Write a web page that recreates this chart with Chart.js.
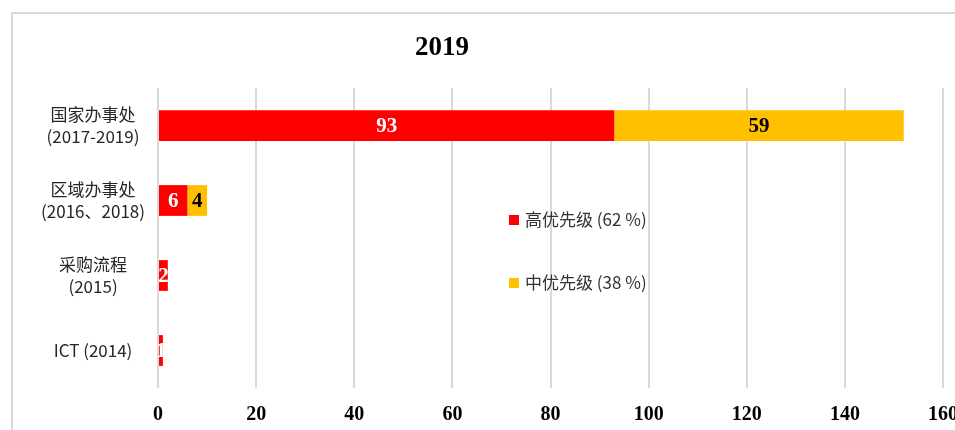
<!DOCTYPE html>
<html>
<head>
<meta charset="utf-8">
<script src="https://cdn.jsdelivr.net/npm/chart.js@4/dist/chart.umd.min.js"></script>
<style>
  html,body{margin:0;padding:0;background:#fff;overflow:hidden;width:955px;height:430px;}
  canvas{display:block;}
</style>
</head>
<body>
<canvas id="c" width="980" height="430"></canvas>
<script>
// data
const chartTitle  = "2019";
const categories  = [["国家办事处","(2017-2019)"],["区域办事处","(2016、2018)"],["采购流程","(2015)"],"ICT (2014)"];
const seriesNames = ["高优先级 (62 %)","中优先级 (38 %)"];
const highValues  = [93,6,2,1];
const midValues   = [59,4,0,0];
const xMin = 0, xMax = 160, xStep = 20;

const RED = "#FF0000", ORANGE = "#FFC000";
const SERIF = '"Liberation Serif","Times New Roman",serif';
const SANS  = '"Noto Sans CJK SC","Noto Sans",sans-serif';

Chart.defaults.animation = false;

/* ---------- extra drawing: frame, title, bar labels, legend ---------- */
const decor = {
  id: "decor",
  beforeDraw(chart){
    const ctx = chart.ctx;
    ctx.save();
    ctx.strokeStyle = "#d9d9d9";
    ctx.lineWidth = 2;
    ctx.beginPath();
    ctx.moveTo(12, 440); ctx.lineTo(12, 13); ctx.lineTo(990, 13);
    ctx.stroke();
    ctx.restore();
  },
  afterDraw(chart){
    const ctx = chart.ctx;
    ctx.save();
    // title
    ctx.fillStyle = "#000";
    ctx.font = "bold 27px " + SERIF;
    ctx.textAlign = "center"; ctx.textBaseline = "middle";
    ctx.fillText(chartTitle, 442, 48);

    // value labels
    ctx.font = "bold 21px " + SERIF;
    chart.data.datasets.forEach((ds, di) => {
      const meta = chart.getDatasetMeta(di);
      meta.data.forEach((bar, i) => {
        const v = ds.data[i];
        if (!v) return;
        ctx.fillStyle = di === 0 ? "#fff" : "#000";
        ctx.fillText(String(v), (bar.x + bar.base) / 2, bar.y + 1);
      });
    });

    // legend
    const legY = [220, 283];
    ctx.font = "17px " + SANS;
    ctx.textAlign = "left";
    chart.data.datasets.forEach((ds, di) => {
      ctx.fillStyle = ds.backgroundColor;
      ctx.fillRect(509, legY[di] - 5, 10, 10);
      ctx.fillStyle = "#333";
      ctx.fillText(ds.label, 525, legY[di]);
    });
    ctx.restore();
  }
};

new Chart(document.getElementById("c").getContext("2d"), {
  type: "bar",
  data: {
    labels: categories,
    datasets: [
      { label: seriesNames[0], data: highValues, backgroundColor: RED,    categoryPercentage: 1, barPercentage: 0.41 },
      { label: seriesNames[1], data: midValues,  backgroundColor: ORANGE, categoryPercentage: 1, barPercentage: 0.41 }
    ]
  },
  options: {
    indexAxis: "y",
    responsive: false,
    devicePixelRatio: 1,
    layout: { padding: { top: 88, right: 37, bottom: 0, left: 0 } },
    plugins: { legend: { display: false }, title: { display: false }, tooltip: { enabled: false } },
    scales: {
      x: {
        stacked: true,
        min: xMin, max: xMax,
        afterFit: (s) => { s.height = 42; },
        ticks: { stepSize: xStep, padding: 15, color: "#000", font: { family: SERIF, size: 20, weight: "bold" } },
        grid: { color: "#d9d9d9", lineWidth: 2, drawTicks: false },
        border: { display: false }
      },
      y: {
        stacked: true,
        afterFit: (s) => { s.width = 158; },
        ticks: { crossAlign: "center", padding: 13, color: "#262626", font: { family: SANS, size: 17, lineHeight: 1.3 } },
        grid: { display: false, drawTicks: false },
        border: { display: false }
      }
    }
  },
  plugins: [decor]
});
</script>
</body>
</html>
